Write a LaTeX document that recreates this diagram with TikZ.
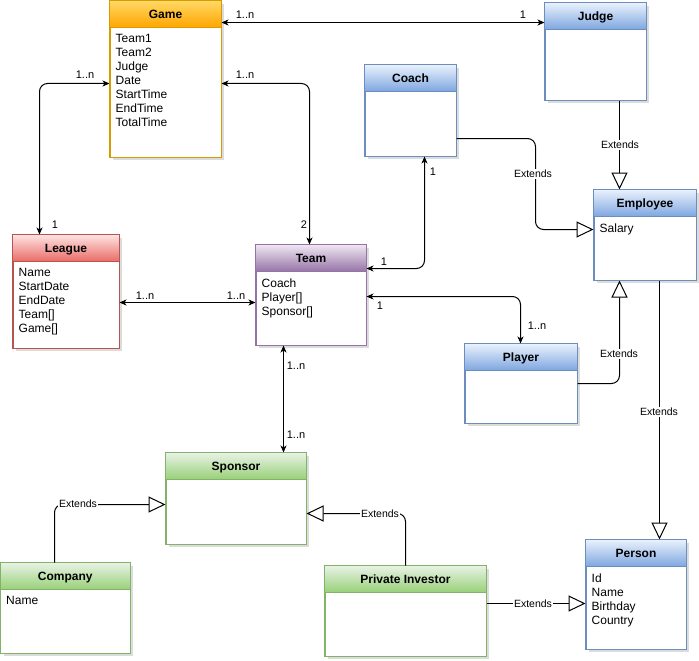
\documentclass[tikz,border=0pt]{standalone}
\usepackage{fontspec}
\setmainfont{Liberation Sans}
\usetikzlibrary{arrows.meta,calc,shadows}
\definecolor{orangetop}{HTML}{FFD966}
\definecolor{orangebot}{HTML}{FFA500}
\definecolor{orangeline}{HTML}{D79B00}
\definecolor{redtop}{HTML}{FDE4E3}
\definecolor{redbot}{HTML}{EA6B66}
\definecolor{redline}{HTML}{B85450}
\definecolor{purpletop}{HTML}{EFE8F2}
\definecolor{purplebot}{HTML}{9673A6}
\definecolor{purpleline}{HTML}{9673A6}
\definecolor{bluetop}{HTML}{EAF2FD}
\definecolor{bluebot}{HTML}{7EA6E0}
\definecolor{blueline}{HTML}{6C8EBF}
\definecolor{greentop}{HTML}{E8F3E6}
\definecolor{greenbot}{HTML}{97D077}
\definecolor{greenline}{HTML}{82B366}
\tikzset{
  classbox/.style={rectangle, fill=white, inner sep=0pt, line width=1pt,
    drop shadow={shadow xshift=3pt, shadow yshift=-3pt, fill=black!30, opacity=0.45}},
  classtitle/.style={font=\bfseries\fontsize{12}{14}\selectfont, inner sep=0pt, text height=8.6pt, text depth=0pt},
  classattrs/.style={anchor=north west, align=left, inner sep=0pt, font=\fontsize{12}{14}\selectfont},
  mult/.style={font=\fontsize{11}{13}\selectfont, inner sep=1pt},
  extlabel/.style={font=\fontsize{10.5}{12}\selectfont, fill=white, inner sep=1pt},
  bi/.style={line width=1pt, rounded corners=8pt,
    {Stealth[length=7pt,width=6pt,inset=2pt]}-{Stealth[length=7pt,width=6pt,inset=2pt]}},
  ext/.style={line width=1pt, rounded corners=8pt,
    -{Triangle[open,length=17pt,width=16pt,fill=white]}}
}
\newcommand{\umlclass}[8]{%
  \node[classbox, draw=#6line, minimum width={(#4-#2)*1pt}, minimum height={(#5-#3)*1pt}] (#1) at ({(#2+#4)/2},{(#3+#5)/2}) {};
  \shade[top color=#6top, bottom color=#6bot] (#1.north west) rectangle ($(#1.north east)+(0,27)$);
  \draw[#6line, line width=1pt] ($(#1.north west)+(0,27)$) -- ($(#1.north east)+(0,27)$);
  \draw[#6line, line width=1pt] (#1.north west) rectangle (#1.south east);
  \node[classtitle] (#1-title) at ($(#1.north)+(0,13.5)$) {#7};
  \node[classattrs] (#1-attrs) at ($(#1.north west)+(6,34)$) {#8};
}
\begin{document}
\begin{tikzpicture}[x=1pt,y=-1pt]
\fill[white] (0,0) rectangle (699,661);
\useasboundingbox (0,0) rectangle (699,661);

\umlclass{game}{110}{1}{221}{157}{orange}{Game}{Team1\\Team2\\Judge\\Date\\StartTime\\EndTime\\TotalTime}
\umlclass{judge}{545}{3}{646}{100}{blue}{Judge}{}
\umlclass{coach}{365}{65}{456}{156}{blue}{Coach}{}
\umlclass{league}{13}{235}{119}{348}{red}{League}{Name\\StartDate\\EndDate\\Team[]\\Game[]}
\umlclass{team}{256}{245}{366}{345}{purple}{Team}{Coach\\Player[]\\Sponsor[]}
\umlclass{employee}{594}{190}{696}{280}{blue}{Employee}{Salary}
\umlclass{player}{465}{344}{577}{423}{blue}{Player}{}
\umlclass{sponsor}{166}{453}{306}{544}{green}{Sponsor}{}
\umlclass{company}{0.5}{563}{130}{653}{green}{Company}{Name}
\umlclass{pi}{325}{566}{486}{656}{green}{Private Investor}{}
\umlclass{person}{586}{540}{686}{649}{blue}{Person}{Id\\Name\\Birthday\\Country}

% associations
\draw[bi] ($(game.north east)+(0,22)$) -- ($(judge.north west)+(0,20)$);
\draw[bi] ($(game.north east)+(0,83)$) -| ($(team.north west)+(54,0)$);
\draw[bi] ($(game.north west)+(0,83)$) -| ($(league.north west)+(27,0)$);
\draw[bi] ($(league.north east)+(0,68)$) -- ($(team.north west)+(0,58)$);
\draw[bi] ($(coach.south west)+(60,0)$) |- ($(team.north east)+(0,24)$);
\draw[bi] ($(team.north east)+(0,52)$) -| ($(player.north west)+(56,0)$);
\draw[bi] ($(team.south west)+(28,0)$) -- ($(sponsor.north west)+(118,0)$);

% generalisations
\draw[ext] ($(judge.south west)+(75,0)$) -- ($(employee.north west)+(26,0)$);
\draw[ext] ($(coach.north east)+(0,74)$) -- ++(79,0) |- ($(employee.north west)+(0,40)$);
\draw[ext] ($(player.north east)+(0,40)$) -| ($(employee.south west)+(26,0)$);
\draw[ext] ($(employee.south west)+(66,0)$) -- ($(person.north west)+(74,0)$);
\draw[ext] ($(company.north west)+(54.5,0)$) |- ($(sponsor.north west)+(0,52)$);
\draw[ext] ($(pi.north west)+(81,0)$) |- ($(sponsor.north east)+(0,61)$);
\draw[ext] ($(pi.north east)+(0,38)$) -- ($(person.north west)+(0,64)$);

% multiplicities
\node[mult] (m1) at (245,15) {1..n};
\node[mult] (m2) at (523,15) {1};
\node[mult] (m3) at (245,75) {1..n};
\node[mult] (m4) at (304,225) {2};
\node[mult] (m5) at (85,75) {1..n};
\node[mult] (m6) at (55,225) {1};
\node[mult] (m7) at (145,296) {1..n};
\node[mult] (m8) at (236,296) {1..n};
\node[mult] (m9) at (433,172) {1};
\node[mult] (m10) at (384,262) {1};
\node[mult] (m11) at (380,306) {1};
\node[mult] (m12) at (537,326) {1..n};
\node[mult] (m13) at (296,366) {1..n};
\node[mult] (m14) at (296,435) {1..n};

% extends labels
\node[extlabel] (e1) at (620,145) {Extends};
\node[extlabel] (e2) at (533,174) {Extends};
\node[extlabel] (e3) at (619,354) {Extends};
\node[extlabel] (e4) at (659,412) {Extends};
\node[extlabel] (e5) at (78,504) {Extends};
\node[extlabel] (e6) at (380,514) {Extends};
\node[extlabel] (e7) at (533,604) {Extends};
\end{tikzpicture}
\end{document}
